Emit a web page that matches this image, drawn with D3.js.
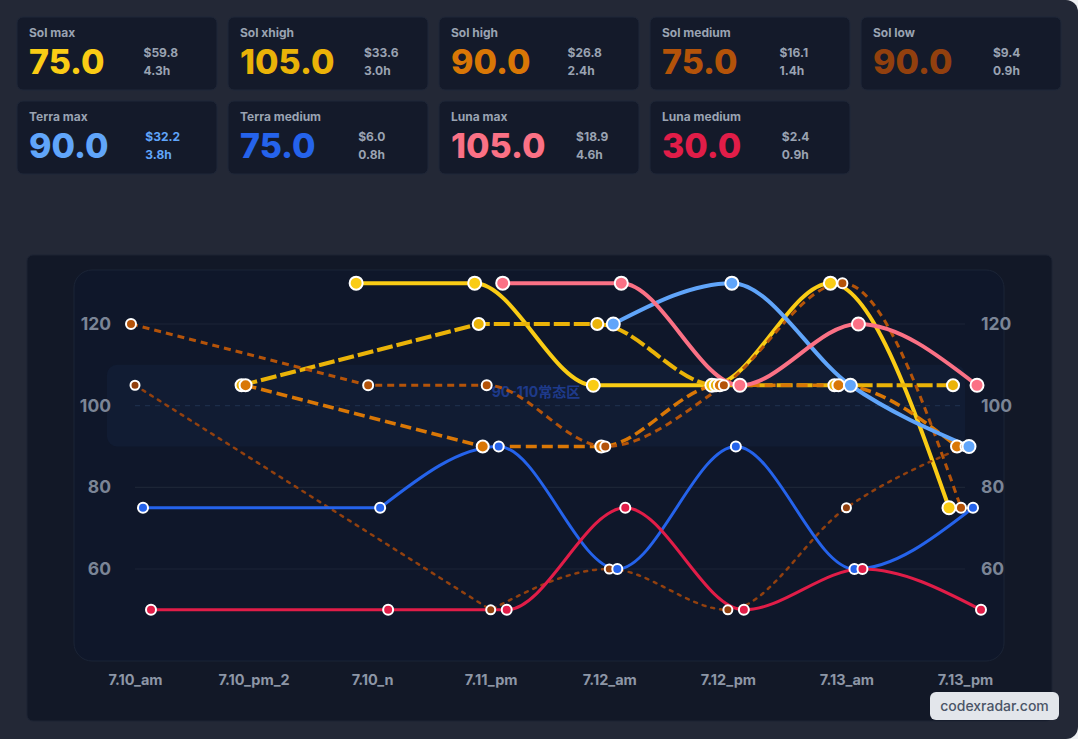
<!DOCTYPE html>
<html>
<head>
<meta charset="utf-8">
<script src="https://cdn.jsdelivr.net/npm/d3@7"></script>
<style>
  html, body { margin: 0; padding: 0; background: #eef0f3; }
  .vis { width: 1078px; height: 739px; background: #232836; border-radius: 0 12px 12px 0; overflow: hidden; }
  svg text { font-family: Inter, "Noto Sans", "Noto Sans CJK SC", sans-serif; }
</style>
</head>
<body>
<div class="vis"></div>
<script>
(function() {
  'use strict';

  // x categories and series values (null = no reading)
  var categories = ["7.10_am", "7.10_pm_2", "7.10_n", "7.11_pm", "7.12_am", "7.12_pm", "7.13_am", "7.13_pm"];
  var seriesNames = ["Sol max", "Sol xhigh", "Sol high", "Sol medium", "Sol low", "Terra max", "Terra medium", "Luna max", "Luna medium"];
  var solMax      = [null, null, 130, 130, 105, 105, 130, 75];
  var solXhigh    = [null, 105, null, 120, 120, 105, 105, 105];
  var solHigh     = [null, 105, null, 90, 90, 105, 105, 90];
  var solMedium   = [120, null, 105, 105, 90, 105, 130, 75];
  var solLow      = [105, null, null, 50, 60, 50, 75, 90];
  var terraMax    = [null, null, null, null, 120, 130, 105, 90];
  var terraMedium = [75, null, 75, 90, 60, 90, 60, 75];
  var lunaMax     = [null, null, null, 130, 130, 105, 120, 105];
  var lunaMedium  = [50, null, 50, 50, 75, 50, 60, 50];

  // summary cards
  var cardValues = [75.0, 105.0, 90.0, 75.0, 90.0, 90.0, 75.0, 105.0, 30.0];
  var cardCost   = [59.8, 33.6, 26.8, 16.1, 9.4, 32.2, 6.0, 18.9, 2.4];
  var cardHours  = [4.3, 3.0, 2.4, 1.4, 0.9, 3.8, 0.8, 4.6, 0.9];

  var yTicks = [60, 80, 100, 120];
  var bandRange = [90, 110];
  var bandLabel = "90-110常态区";

  var colors = ["#facc15", "#eab308", "#d97706", "#b45309", "#92400e", "#60a5fa", "#2563eb", "#fb7185", "#e11d48"];
  var widths = [4, 4, 3.5, 3, 2.5, 4, 3, 4, 3];
  var dashes = [null, "16,4", "11,5", "7,5", "3,6", null, null, null, null];
  var radii = [6.5, 6, 6, 5, 4.5, 6.5, 5, 6.5, 5];

  var allValues = [solMax, solXhigh, solHigh, solMedium, solLow, terraMax, terraMedium, lunaMax, lunaMedium];

  var svg = d3.select('.vis').append('svg')
    .attr('width', 1078)
    .attr('height', 739);

  // ---- cards ----
  var cardW = 200, cardH = 73;
  var cards = svg.selectAll('.card')
    .data(seriesNames)
    .enter().append('g')
      .attr('class', 'card')
      .attr('transform', function(d, i) {
        return 'translate(' + (17 + (i % 5) * 211) + ',' + (17 + Math.floor(i / 5) * 84) + ')';
      });

  cards.append('rect')
    .attr('width', cardW).attr('height', cardH)
    .attr('rx', 6)
    .attr('fill', '#141a2a')
    .attr('stroke', '#1f2738');

  cards.append('text')
    .attr('x', 12).attr('y', 20)
    .attr('font-size', 12).attr('font-weight', 700)
    .attr('fill', '#9aa3b2')
    .text(function(d) { return d; });

  cards.each(function(d, i) {
    var g = d3.select(this);
    var val = g.append('text')
      .attr('x', 12).attr('y', 56.5)
      .attr('font-size', 34).attr('font-weight', 800)
      .attr('fill', colors[i])
      .text(cardValues[i].toFixed(1));
    var w = val.node().getComputedTextLength();
    var statColor = i === 5 ? '#60a5fa' : '#9aa3b2';
    var s1 = g.append('text')
      .attr('y', 40)
      .attr('font-size', 12).attr('font-weight', 700)
      .attr('fill', statColor)
      .text('$' + cardCost[i].toFixed(1));
    var s2 = g.append('text')
      .attr('y', 58)
      .attr('font-size', 12).attr('font-weight', 700)
      .attr('fill', statColor)
      .text(cardHours[i].toFixed(1) + 'h');
    var s = Math.max(s1.node().getComputedTextLength(), s2.node().getComputedTextLength());
    var sx = 24 + w + (164 - w - s) / 2;
    s1.attr('x', sx);
    s2.attr('x', sx);
  });

  // ---- chart panel ----
  svg.append('rect')
    .attr('x', 27).attr('y', 255)
    .attr('width', 1025).attr('height', 466)
    .attr('rx', 6)
    .attr('fill', '#121827')
    .attr('stroke', '#1c2333');

  svg.append('rect')
    .attr('x', 74).attr('y', 270)
    .attr('width', 930).attr('height', 391)
    .attr('rx', 18)
    .attr('fill', '#0f172a')
    .attr('stroke', '#1b2436');

  var x = d3.scalePoint()
    .domain(categories)
    .range([135, 965]);

  var y = d3.scaleLinear()
    .domain([60, 120])
    .range([569, 324]);

  // normal band
  svg.append('rect')
    .attr('x', 107).attr('y', y(bandRange[1]))
    .attr('width', 965 - 107).attr('height', y(bandRange[0]) - y(bandRange[1]))
    .attr('rx', 10)
    .attr('fill', '#111c33');

  // grid
  svg.selectAll('.grid')
    .data(yTicks)
    .enter().append('line')
      .attr('class', 'grid')
      .attr('x1', x(categories[0])).attr('x2', x(categories[categories.length - 1]))
      .attr('y1', function(d) { return y(d); })
      .attr('y2', function(d) { return y(d); })
      .attr('stroke', function(d) { return d === 100 ? '#1c2d4a' : '#1c2536'; })
      .attr('stroke-width', 1.2)
      .attr('stroke-dasharray', function(d) { return d === 100 ? '5,5' : null; });

  svg.append('text')
    .attr('x', (107 + 965) / 2).attr('y', y(100) - 9)
    .attr('text-anchor', 'middle')
    .attr('font-size', 14).attr('font-weight', 700)
    .attr('fill', '#1e3a8a')
    .text(bandLabel);

  // y labels both sides
  var yLeft = d3.axisLeft(y).tickValues(yTicks).tickSize(0).tickPadding(0);
  var yRight = d3.axisRight(y).tickValues(yTicks).tickSize(0).tickPadding(0);
  [[yLeft, 111], [yRight, 981]].forEach(function(a) {
    var g = svg.append('g')
      .attr('transform', 'translate(' + a[1] + ',0)')
      .call(a[0]);
    g.select('.domain').remove();
    g.selectAll('text')
      .attr('font-family', 'Inter, sans-serif')
      .attr('font-size', 17.5).attr('font-weight', 700)
      .attr('fill', '#7b8596');
  });

  // x labels
  var xAxis = svg.append('g')
    .attr('transform', 'translate(0,675)')
    .call(d3.axisBottom(x).tickSize(0).tickPadding(0));
  xAxis.select('.domain').remove();
  xAxis.selectAll('text')
    .attr('font-family', 'Inter, sans-serif')
    .attr('font-size', 14.5).attr('font-weight', 700)
    .attr('fill', '#8d96a6');

  // series: consecutive readings are smoothed, gaps are bridged straight
  var series = seriesNames.map(function(name, i) {
    var off = (i - 4) * 4;
    var pts = [];
    allValues[i].forEach(function(v, j) {
      if (v !== null) pts.push({x: x(categories[j]) + off, y: y(v), j: j});
    });
    return {name: name, i: i, pts: pts};
  });

  var smooth = d3.line()
    .x(function(d) { return d.x; })
    .y(function(d) { return d.y; })
    .curve(d3.curveMonotoneX);

  function seriesPath(pts) {
    var runs = [], cur = [pts[0]], d = '';
    for (var k = 1; k < pts.length; k++) {
      if (pts[k].j - pts[k - 1].j === 1) {
        cur.push(pts[k]);
      } else {
        runs.push(cur);
        cur = [pts[k]];
      }
    }
    runs.push(cur);
    runs.forEach(function(r, n) {
      var seg = r.length > 1 ? smooth(r) : 'M' + r[0].x + ',' + r[0].y;
      if (n > 0) seg = 'L' + seg.slice(1);
      d += seg;
    });
    return d;
  }

  svg.selectAll('.series-line')
    .data(series)
    .enter().append('path')
      .attr('class', 'series-line')
      .attr('d', function(d) { return seriesPath(d.pts); })
      .attr('fill', 'none')
      .attr('stroke', function(d) { return colors[d.i]; })
      .attr('stroke-width', function(d) { return widths[d.i]; })
      .attr('stroke-dasharray', function(d) { return dashes[d.i]; })
      .attr('stroke-linecap', function(d) { return d.i === 4 ? 'round' : 'butt'; });

  var pointGroups = svg.selectAll('.points')
    .data(series)
    .enter().append('g')
      .attr('class', 'points');

  pointGroups.selectAll('circle')
    .data(function(d) { return d.pts.map(function(p) { return {p: p, i: d.i}; }); })
    .enter().append('circle')
      .attr('cx', function(d) { return d.p.x; })
      .attr('cy', function(d) { return d.p.y; })
      .attr('r', function(d) { return radii[d.i]; })
      .attr('fill', function(d) { return colors[d.i]; })
      .attr('stroke', '#ffffff')
      .attr('stroke-width', 2);

  // watermark
  var wm = svg.append('g').attr('transform', 'translate(930,692)');
  wm.append('rect')
    .attr('width', 129).attr('height', 28)
    .attr('rx', 6)
    .attr('fill', '#e3e6eb');
  wm.append('text')
    .attr('x', 64.5).attr('y', 19)
    .attr('text-anchor', 'middle')
    .attr('font-size', 14).attr('font-weight', 500)
    .attr('fill', '#4b5567')
    .text('codexradar.com');
}());
</script>
</body>
</html>
